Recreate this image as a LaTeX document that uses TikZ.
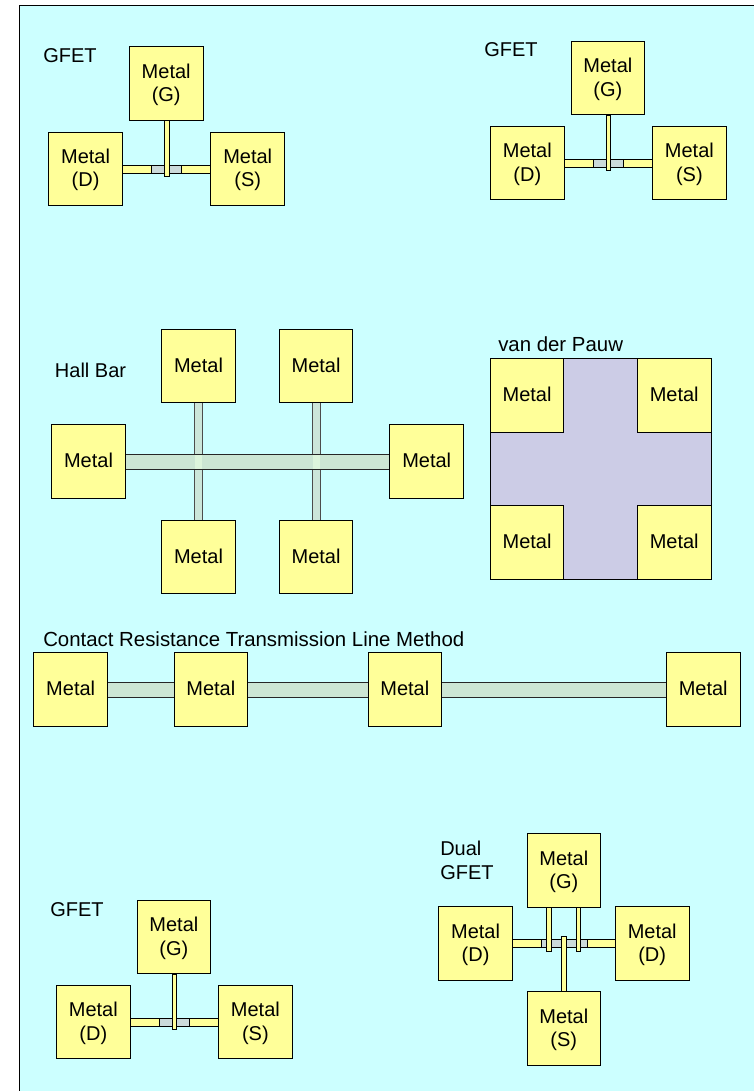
\documentclass[tikz,border=0pt]{standalone}
\usepackage{fontspec}
\setmainfont{Liberation Sans}
\definecolor{bgcyan}{HTML}{CCFFFF}
\definecolor{padyellow}{HTML}{FFFF99}
\definecolor{chgrey}{HTML}{CBDADA}
\definecolor{bargreen}{HTML}{CCE6D4}
\definecolor{vbargreen}{HTML}{CCE6DA}
\definecolor{crossgreen}{HTML}{DDF5DC}
\definecolor{lilac}{HTML}{CCCCE6}
\tikzset{
  x=0.75pt,y=-0.75pt,
  shp/.style={rectangle,draw=black,line width=0.7pt,inner sep=0pt,outer sep=0pt},
  pad/.style={shp,fill=padyellow,font=\fontsize{15}{17.5}\selectfont,align=center,
     minimum width=55.2pt,minimum height=55.2pt},
  onepad/.style={pad,text height=11pt,text depth=2pt},
  twopad/.style={pad,text height=29.4pt,text depth=2.2pt},
  chbar/.style={shp,fill=chgrey},
  strip/.style={shp,fill=padyellow},
  gbar/.style={shp,draw=black!85,fill=bargreen},
  vbar/.style={shp,draw=black!70,line width=0.6pt,fill=vbargreen},
  cross/.style={rectangle,fill=crossgreen,inner sep=0pt,outer sep=0pt},
  film/.style={shp,fill=lilac},
  lbl/.style={anchor=base west,inner sep=0pt,font=\fontsize{15}{18}\selectfont},
  widelbl/.style={lbl,font=\fontsize{15.3}{18}\selectfont}
}
% rectangle node from corner to corner, in pixels
\newcommand{\rectn}[6]{%
  \pgfmathsetmacro{\rw}{abs(#5-#3)*0.75}%
  \pgfmathsetmacro{\rh}{abs(#6-#4)*0.75}%
  \node[#1,minimum width=\rw pt,minimum height=\rh pt] (#2) at ({(#3+#5)/2},{(#4+#6)/2}) {};}
% square pad: style, name, left, top, text
\newcommand{\padn}[5]{\node[#1] (#2) at ({#3+36.8},{#4+36.8}) {#5};}
\newcommand{\gfetn}[3]{%
  \begin{scope}[shift={(#2,#3)}]
    \rectn{chbar}{#1ch}{151.7}{165.3}{181.3}{173}
    \rectn{strip}{#1ds}{122.3}{165.3}{151.7}{173}
    \rectn{strip}{#1ss}{181.3}{165.3}{210.7}{173}
    \rectn{strip}{#1gs}{164.3}{120.7}{169}{176.3}
    \padn{twopad}{#1g}{129.4}{46.8}{Metal\\(G)}
    \padn{twopad}{#1d}{48.8}{132}{Metal\\(D)}
    \padn{twopad}{#1s}{210.9}{132}{Metal\\(S)}
  \end{scope}}
\begin{document}
\begin{tikzpicture}
\useasboundingbox (0,0) rectangle (753,1091);
\fill[white] (0,0) rectangle (753,1091);
\draw[fill=bgcyan,line width=0.75pt] (19.5,5.3) rectangle (765,1105);

\node[lbl] (t1) at (43,62.7) {GFET};
\gfetn{a}{0}{0}
\node[lbl] (t2) at (484,56.7) {GFET};
\gfetn{b}{441.7}{-5.7}

% Hall bar
\node[lbl] (t3) at (54.7,377.7) {Hall Bar};
\rectn{vbar}{hv1}{194.7}{402.7}{202.3}{520.3}
\rectn{vbar}{hv2}{312.7}{402.7}{320.3}{520.3}
\rectn{gbar}{hh}{125.3}{454.3}{390}{469}
\rectn{cross}{hc1}{195.2}{454.8}{201.8}{468.5}
\rectn{cross}{hc2}{313.2}{454.8}{319.8}{468.5}
\padn{onepad}{h1}{161.7}{329.3}{Metal}
\padn{onepad}{h2}{279.3}{329.3}{Metal}
\padn{onepad}{h3}{51.7}{424.8}{Metal}
\padn{onepad}{h4}{389.9}{424.8}{Metal}
\padn{onepad}{h5}{161.7}{520.3}{Metal}
\padn{onepad}{h6}{279.3}{520.3}{Metal}

% van der Pauw
\node[widelbl] (t4) at (498,351.7) {van der Pauw};
\rectn{film}{vf}{490.3}{358.7}{711}{579.3}
\padn{onepad}{v1}{490.3}{358.7}{Metal}
\padn{onepad}{v2}{637.4}{358.7}{Metal}
\padn{onepad}{v3}{490.3}{505.7}{Metal}
\padn{onepad}{v4}{637.4}{505.7}{Metal}

% TLM
\node[widelbl] (t5) at (43,646) {Contact Resistance Transmission Line Method};
\rectn{gbar}{l1}{107}{682.3}{175}{697.3}
\rectn{gbar}{l2}{247}{682.3}{369}{697.3}
\rectn{gbar}{l3}{441}{682.3}{667}{697.3}
\padn{onepad}{m1}{33.9}{652.9}{Metal}
\padn{onepad}{m2}{174}{652.9}{Metal}
\padn{onepad}{m3}{368}{652.9}{Metal}
\padn{onepad}{m4}{666.4}{652.9}{Metal}

\node[lbl] (t6) at (50,916.7) {GFET};
\gfetn{c}{7.7}{853.3}

% Dual GFET
\node[lbl] (t7) at (440,855) {Dual};
\node[lbl] (t8) at (440,879) {GFET};
\rectn{chbar}{dch}{541.7}{939.3}{587.3}{947.7}
\rectn{strip}{dds}{512.3}{939.3}{541.7}{947.7}
\rectn{strip}{dss}{587.3}{939.3}{617}{947.7}
\rectn{strip}{dg1}{546.7}{906.7}{551.3}{951.3}
\rectn{strip}{dg2}{576.3}{906.7}{580.7}{951.3}
\rectn{strip}{dsb}{561.3}{936.3}{566}{991.7}
\padn{twopad}{dg}{527}{833.4}{Metal\\(G)}
\padn{twopad}{dd}{438.8}{906.8}{Metal\\(D)}
\padn{twopad}{de}{615.4}{906.8}{Metal\\(D)}
\padn{twopad}{ds}{527}{991.7}{Metal\\(S)}
\end{tikzpicture}
\end{document}
